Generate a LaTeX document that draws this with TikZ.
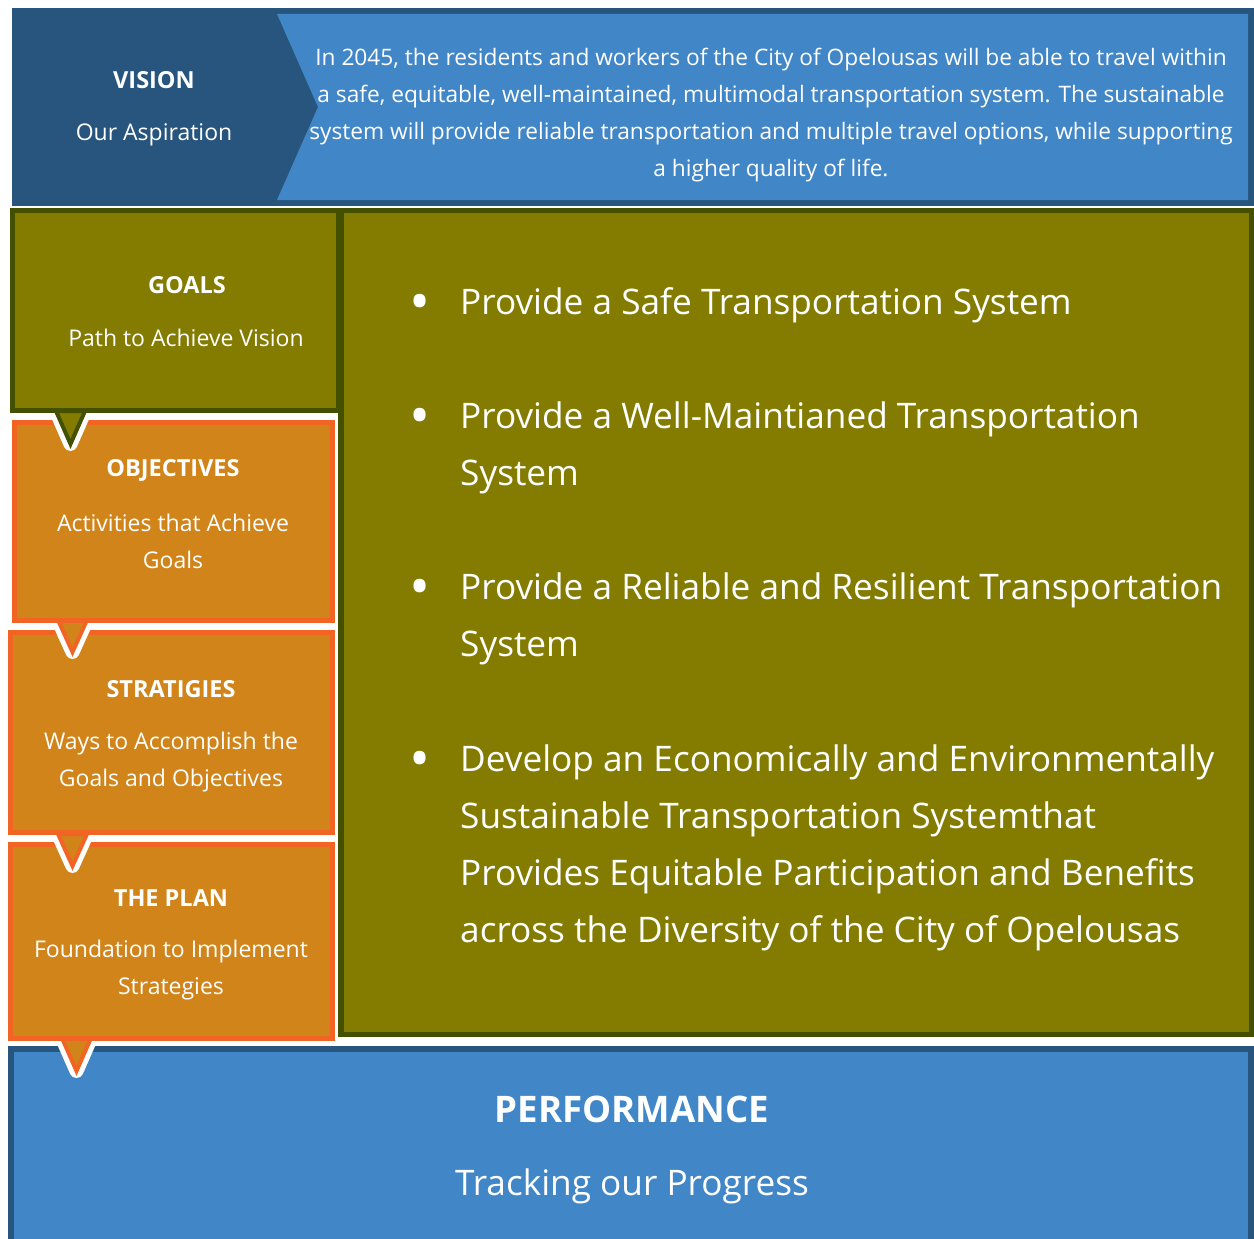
\documentclass[tikz,border=0pt]{standalone}
\usepackage{fontspec}
\setmainfont{Open Sans}
\definecolor{dblue}{HTML}{27557E}
\definecolor{lblue}{HTML}{4186C6}
\definecolor{olive}{HTML}{847C00}
\definecolor{dolive}{HTML}{435000}
\definecolor{ofill}{HTML}{D0841A}
\definecolor{oedge}{HTML}{F26424}
\begin{document}
\begin{tikzpicture}[x=1pt,y=-1pt,
  txt/.style={text=white,inner sep=0pt,align=center},
  head/.style={txt,font=\fontsize{23.5}{26}\selectfont\bfseries},
  sub/.style={txt,font=\fontsize{23}{37}\selectfont},
  vtext/.style={txt,font=\fontsize{22.7}{37}\selectfont},
  bul/.style={text=white,inner sep=0pt,align=left,anchor=west,font=\fontsize{35.2}{57}\selectfont},
  dot/.style={text=white,inner sep=0pt,font=\fontsize{56}{60}\selectfont},
  whiteout/.style={draw=white,line width=14pt,line join=round,fill=white},
  ptrolive/.style={draw=dolive,line width=4pt,fill=olive},
  ptrorange/.style={draw=oedge,line width=4pt,fill=ofill},
  obox/.style={draw=oedge,line width=5pt,fill=ofill},
]
\useasboundingbox (0,0) rectangle (1254,1239);
\fill[white] (0,0) rectangle (1254,1239);
% vision band
\fill[dblue] (12,8) rectangle (1254,206);
\fill[lblue] (277,14) -- (1248,14) -- (1248,200) -- (277,200) -- (318,107) -- cycle;
% performance
\begin{scope}
\clip (0,0) rectangle (1254,1239);
\draw[draw=dblue,line width=6pt,fill=lblue] (11,1049) rectangle (1251,1260);
\end{scope}
% plan pointer and box
\draw[whiteout] (62,1038) -- (91,1038) -- (76.5,1071) -- cycle;
\draw[ptrorange] (62,1038) -- (91,1038) -- (76.5,1071) -- cycle;
\draw[obox] (10.5,844.5) rectangle (332.5,1038.5);
% strategies pointer and box
\draw[whiteout] (58,834) -- (87,834) -- (72.5,866) -- cycle;
\draw[ptrorange] (58,834) -- (87,834) -- (72.5,866) -- cycle;
\draw[obox] (10.5,632.5) rectangle (332.5,832.5);
% objectives pointer and box
\draw[whiteout] (58,620) -- (87,620) -- (72.5,652) -- cycle;
\draw[ptrorange] (58,620) -- (87,620) -- (72.5,652) -- cycle;
\draw[obox] (14.5,422.5) rectangle (332.5,620.5);
% goals pointer and box
\draw[whiteout] (56,411) -- (85,411) -- (70.5,444) -- cycle;
\draw[ptrolive] (56,411) -- (85,411) -- (70.5,444) -- cycle;
\draw[draw=dolive,line width=5pt,fill=olive] (12.5,210.5) rectangle (338.5,410.5);
% right goals box
\draw[draw=dolive,line width=5.5pt,fill=olive] (341,210.5) rectangle (1251.5,1034.5);

% texts
\node[head] (vision) at (154,80) {VISION};
\node[sub] (visionsub) at (154,135) {Our Aspiration};
\node[vtext] (visiontext) at (771,115.5) {In 2045, the residents and workers of the City of Opelousas will be able to travel within\\
a safe, equitable, well-maintained, multimodal transportation system. The sustainable\\
system will provide reliable transportation and multiple travel options, while supporting\\
a higher quality of life.};

\node[head] (goals) at (187,285) {GOALS};
\node[sub] (goalssub) at (186,338) {Path to Achieve Vision};
\node[head] (obj) at (173,470) {OBJECTIVES};
\node[sub] (objsub) at (173,541) {Activities that Achieve\\Goals};
\node[head] (strat) at (171,689) {STRATIGIES};
\node[sub] (stratsub) at (171,762) {Ways to Accomplish the\\Goals and Objectives};
\node[head] (plan) at (171,898) {THE PLAN};
\node[sub] (plansub) at (171,970) {Foundation to Implement\\Strategies};

\node[txt,font=\fontsize{36.6}{40}\selectfont\bfseries] (perf) at (632,1109) {PERFORMANCE};
\node[txt,font=\fontsize{35.2}{40}\selectfont] (perfsub) at (632,1186) {Tracking our Progress};

\node[dot] (d1) at (420,308) {•};
\node[dot] (d2) at (420,422) {•};
\node[dot] (d3) at (420,593) {•};
\node[dot] (d4) at (420,765) {•};
\node[bul] (b1) at (460,305.5) {Provide a Safe Transportation System};
\node[bul] (b2) at (460,448) {Provide a Well-Maintianed Transportation\\System};
\node[bul] (b3) at (460,619) {Provide a Reliable and Resilient Transportation\\System};
\node[bul] (b4) at (460,848) {Develop an Economically and Environmentally\\Sustainable Transportation Systemthat\\Provides Equitable Participation and Benefits\\across the Diversity of the City of Opelousas};
\end{tikzpicture}
\end{document}
